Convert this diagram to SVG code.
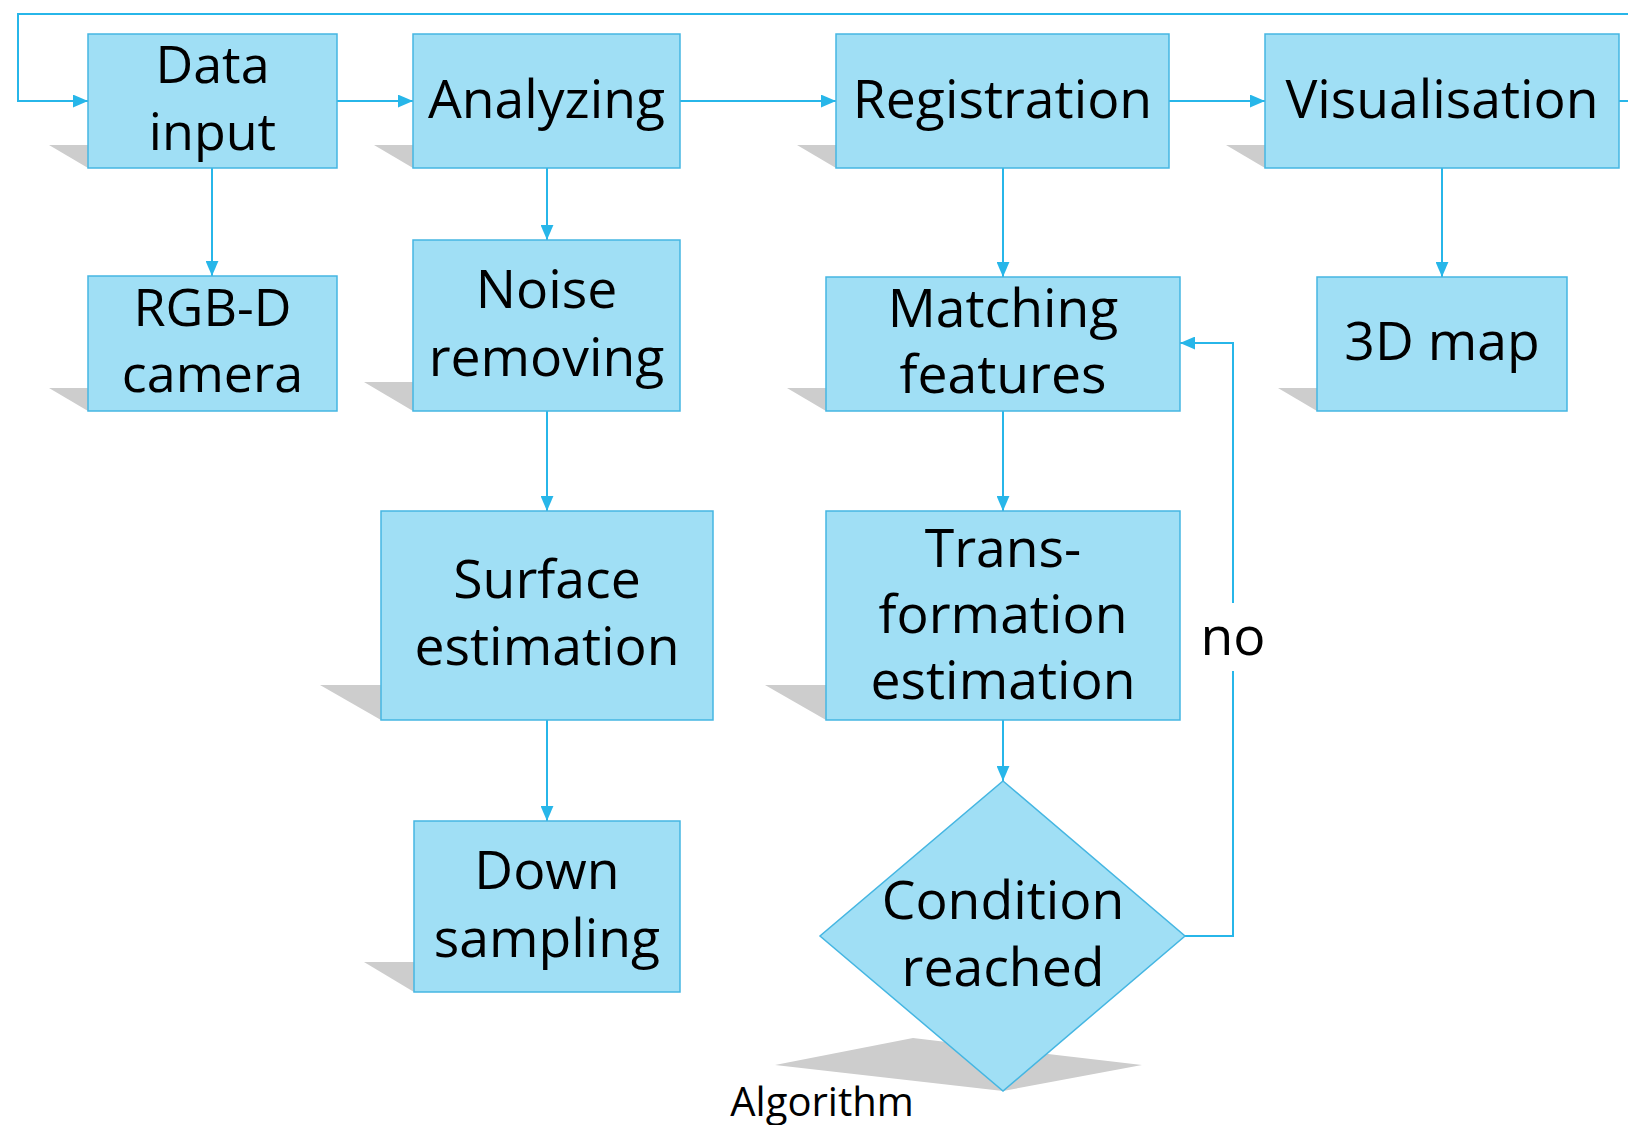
<svg xmlns="http://www.w3.org/2000/svg" width="1628" height="1125" viewBox="0 0 1628 1125">
  <style>
    .box { fill: #a0dff5; stroke: #45b6e2; stroke-width: 1.5; }
    .shadow { fill: #cdcdcd; stroke: none; }
    .label { font-family: "Open Sans", "Noto Sans", sans-serif; font-size: 53.5px; fill: #000; text-anchor: middle; }
    .tight { font-size: 52px; }
    .caption { font-family: "Open Sans", "Noto Sans", sans-serif; font-size: 40px; fill: #000; text-anchor: middle; }
    .conn { fill: none; stroke: #27b6e9; stroke-width: 2; }
    .arrow { marker-end: url(#head); }
  </style>
  <defs>
    <marker id="head" viewBox="0 0 14 12" refX="14" refY="6" markerWidth="15" markerHeight="13" markerUnits="userSpaceOnUse" orient="auto">
      <path d="M0,0 L14,6 L0,12 z" fill="#27b6e9"/>
    </marker>
  </defs>

  <rect width="1628" height="1125" fill="#ffffff"/>

  <!-- connectors -->
  <g id="connectors">
    <path class="conn arrow" d="M1619,101 H1650 V14 H18 V101 H88"/>
    <path class="conn arrow" d="M337,101 H413"/>
    <path class="conn arrow" d="M680,101 H836"/>
    <path class="conn arrow" d="M1169,101 H1265"/>
    <path class="conn arrow" d="M212,168 V276"/>
    <path class="conn arrow" d="M547,168 V240"/>
    <path class="conn arrow" d="M547,411 V511"/>
    <path class="conn arrow" d="M547,720 V821"/>
    <path class="conn arrow" d="M1003,168 V277"/>
    <path class="conn arrow" d="M1003,411 V511"/>
    <path class="conn arrow" d="M1003,720 V781"/>
    <path class="conn arrow" d="M1442,168 V277"/>
    <!-- loop back from the decision ("no" branch), line broken around its label -->
    <path class="conn" d="M1185,936 H1233 V671"/>
    <path class="conn arrow" d="M1233,603 V343 H1180"/>
    <text class="label" x="1233" y="655">no</text>
  </g>

  <g id="data-input">
    <polygon class="shadow" points="49,145 298,145 337,168 88,168"/>
    <rect class="box" x="88" y="34" width="249" height="134"/>
    <text class="label tight" x="212.5" y="83">Data</text>
    <text class="label tight" x="212.5" y="150">input</text>
  </g>

  <g id="analyzing">
    <polygon class="shadow" points="374,145 641,145 680,168 413,168"/>
    <rect class="box" x="413" y="34" width="267" height="134"/>
    <text class="label" x="546.5" y="118">Analyzing</text>
  </g>

  <g id="registration">
    <polygon class="shadow" points="797,145 1130,145 1169,168 836,168"/>
    <rect class="box" x="836" y="34" width="333" height="134"/>
    <text class="label" x="1002.5" y="118">Registration</text>
  </g>

  <g id="visualisation">
    <polygon class="shadow" points="1226,145 1580,145 1619,168 1265,168"/>
    <rect class="box" x="1265" y="34" width="354" height="134"/>
    <text class="label" x="1442" y="118">Visualisation</text>
  </g>

  <g id="rgbd-camera">
    <polygon class="shadow" points="49,388 298,388 337,411 88,411"/>
    <rect class="box" x="88" y="276" width="249" height="135"/>
    <text class="label tight" x="212.5" y="326">RGB-D</text>
    <text class="label tight" x="212.5" y="392">camera</text>
  </g>

  <g id="noise-removing">
    <polygon class="shadow" points="364,382 631,382 680,411 413,411"/>
    <rect class="box" x="413" y="240" width="267" height="171"/>
    <text class="label" x="546.5" y="308">Noise</text>
    <text class="label" x="546.5" y="376">removing</text>
  </g>

  <g id="matching-features">
    <polygon class="shadow" points="787,388 1141,388 1180,411 826,411"/>
    <rect class="box" x="826" y="277" width="354" height="134"/>
    <text class="label" x="1003" y="327">Matching</text>
    <text class="label" x="1003" y="393">features</text>
  </g>

  <g id="map-3d">
    <polygon class="shadow" points="1278,388 1528,388 1567,411 1317,411"/>
    <rect class="box" x="1317" y="277" width="250" height="134"/>
    <text class="label" x="1442" y="360">3D map</text>
  </g>

  <g id="surface-estimation">
    <polygon class="shadow" points="320,685 652,685 713,720 381,720"/>
    <rect class="box" x="381" y="511" width="332" height="209"/>
    <text class="label" x="547" y="598">Surface</text>
    <text class="label" x="547" y="665">estimation</text>
  </g>

  <g id="transformation-estimation">
    <polygon class="shadow" points="765,685 1119,685 1180,720 826,720"/>
    <rect class="box" x="826" y="511" width="354" height="209"/>
    <text class="label" x="1003" y="567">Trans-</text>
    <text class="label" x="1003" y="633">formation</text>
    <text class="label" x="1003" y="699">estimation</text>
  </g>

  <g id="down-sampling">
    <polygon class="shadow" points="364,962 630,962 680,992 414,992"/>
    <rect class="box" x="414" y="821" width="266" height="171"/>
    <text class="label" x="547" y="889">Down</text>
    <text class="label" x="547" y="957">sampling</text>
  </g>

  <g id="condition-reached">
    <polygon class="shadow" points="775,1065 913,1038 1142,1065 1003,1091"/>
    <polygon class="box" points="1003,781 1185,936 1003,1091 820,936"/>
    <text class="label" x="1003" y="919">Condition</text>
    <text class="label" x="1003" y="986">reached</text>
  </g>

  <g id="caption">
    <text class="caption" x="822" y="1116">Algorithm</text>
  </g>
</svg>
